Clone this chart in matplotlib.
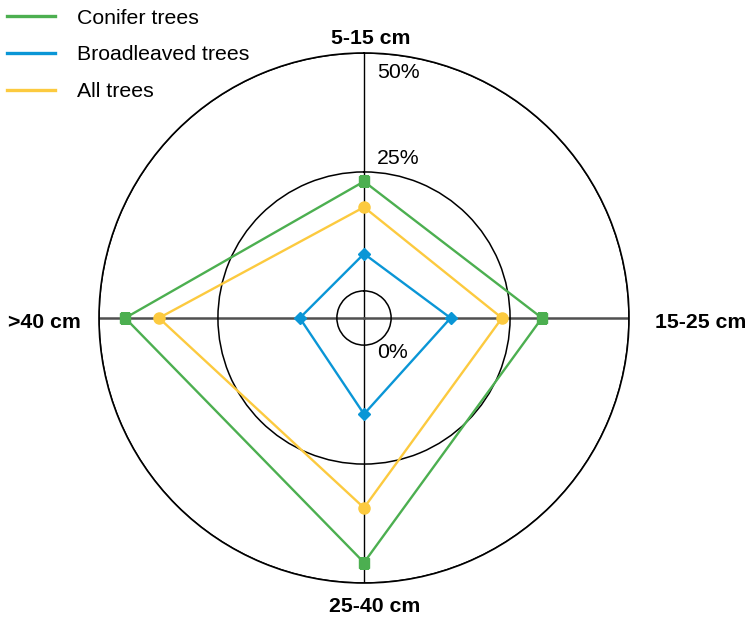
import numpy as np
import matplotlib
matplotlib.use("Agg")
import matplotlib.pyplot as plt

plt.rcParams['font.family'] = ['Liberation Sans', 'DejaVu Sans']

categories = ["5-15 cm", "15-25 cm", "25-40 cm", ">40 cm"]
conifer = [23.0, 31.7, 45.7, 44.5]
broadleaved = [7.8, 12.5, 14.5, 7.8]
all_trees = [17.6, 23.3, 34.2, 37.4]
series_names = ["Conifer trees", "Broadleaved trees", "All trees"]
r_ticks = [0, 25, 50]
r_tick_labels = ["0%", "25%", "50%"]

W, H = 749, 623
fig = plt.figure(figsize=(W / 100, H / 100), dpi=100)
cx, cy, R = 364, 318, 265
ax = fig.add_axes([(cx - R) / W, (H - cy - R) / H, 2 * R / W, 2 * R / H], projection='polar')
ax.set_theta_zero_location('N')
ax.set_theta_direction(-1)
rmin = -5.7
ax.set_ylim(rmin, 50)

angles = np.deg2rad([0, 90, 180, 270])
ax.set_xticks(angles)
ax.set_xticklabels([])
ax.xaxis.grid(False)
ax.set_yticks(r_ticks)
ax.set_yticklabels([])
ax.yaxis.grid(True, color='black', lw=1.1)
ax.spines['polar'].set_color('black')
ax.spines['polar'].set_linewidth(1.2)

# spokes
ax.plot([0, 0], [rmin, 50], color='black', lw=1.0, zorder=1)
ax.plot([np.pi, np.pi], [rmin, 50], color='black', lw=1.0, zorder=1)
ax.plot([np.pi / 2, np.pi / 2], [rmin, 50], color='#505050', lw=1.8, zorder=1)
ax.plot([3 * np.pi / 2, 3 * np.pi / 2], [rmin, 50], color='#505050', lw=1.8, zorder=1)

colors = ['#4caf50', '#0a96d6', '#fcca3f']
markers = ['s', 'D', 'o']
msizes = [7, 6, 8]
data = [conifer, broadleaved, all_trees]
handles = []
for vals, name, c, m, ms in zip(data, series_names, colors, markers, msizes):
    a = np.append(angles, angles[0])
    v = np.append(vals, vals[0])
    ax.plot(a, v, color=c, lw=1.7, zorder=3)
    ax.plot(angles, vals, ls='none', marker=m, ms=ms, color=c, mec=c, zorder=4)
    h, = ax.plot([], [], color=c, lw=2.4, label=name)
    handles.append(h)

fs = 15.3
def ftext(x, y, s, **kw):
    fig.text(x / W, 1 - y / H, s, **kw)

# radial labels
ftext(377, 72, r_tick_labels[2], fontsize=fs, ha='left', va='center')
ftext(377, 159, r_tick_labels[1], fontsize=fs, ha='left', va='center')
ftext(377, 352, r_tick_labels[0], fontsize=fs, ha='left', va='center')

# category labels
ftext(371, 39, categories[0], fontsize=fs, fontweight='bold', ha='center', va='center')
ftext(655, 322, categories[1], fontsize=fs, fontweight='bold', ha='left', va='center')
ftext(375, 606, categories[2], fontsize=fs, fontweight='bold', ha='center', va='center')
ftext(81, 322, categories[3], fontsize=fs, fontweight='bold', ha='right', va='center')

fig.legend(handles=handles, loc='upper left', bbox_to_anchor=(0.0, 1.0 - 1.5 / H),
           frameon=False, fontsize=fs, handlelength=2.26, handletextpad=1.03,
           labelspacing=0.84, borderaxespad=0.0, borderpad=0.33)

fig.savefig('out.png', dpi=100)
